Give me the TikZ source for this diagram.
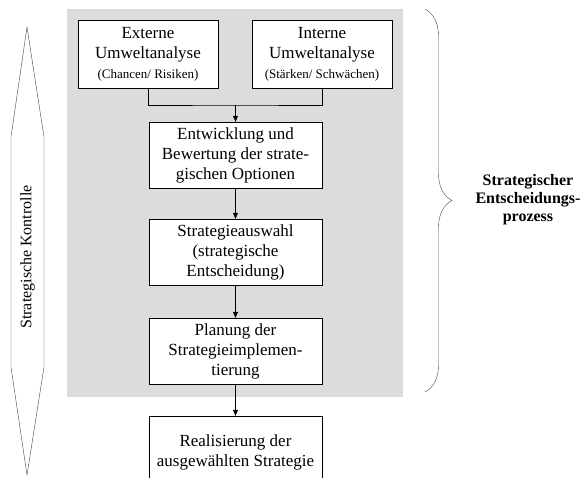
\documentclass[tikz,border=0pt]{standalone}
\usepackage{fontspec}
\setmainfont{Liberation Serif}
\usetikzlibrary{arrows.meta, decorations.pathreplacing}
\definecolor{panelgray}{RGB}{220,220,220}
\begin{document}
\begin{tikzpicture}[x=1pt, y=-1pt,
  stepbox/.style={draw=black, fill=white, align=center, inner sep=0pt,
    font=\fontsize{17}{20}\selectfont},
  flow/.style={-{Triangle[length=6pt, width=5pt]}}]
\useasboundingbox (0,0) rectangle (583,477);
\fill[panelgray] (67,9) rectangle (403,397);

% analysis boxes
\node[stepbox, minimum width=140pt, minimum height=68pt] (ext) at (148,54)
  {Externe\\Umweltanalyse\\{\fontsize{13}{17}\selectfont (Chancen/ Risiken)}};
\node[stepbox, minimum width=140pt, minimum height=68pt] (int) at (322,54)
  {Interne\\Umweltanalyse\\{\fontsize{13}{17}\selectfont (Stärken/ Schwächen)}};

% main chain
\node[stepbox, minimum width=173pt, minimum height=66pt] (opt) at (235.5,155)
  {Entwicklung und\\Bewertung der strate-\\gischen Optionen};
\node[stepbox, minimum width=173pt, minimum height=66pt] (wahl) at (235.5,252)
  {Strategieauswahl\\(strategische\\Entscheidung)};
\node[stepbox, minimum width=173pt, minimum height=66pt] (plan) at (235.5,351)
  {Planung der\\Strategieimplemen-\\tierung};
\node[stepbox, minimum width=173pt, minimum height=72pt] (real) at (235.5,452)
  {Realisierung der\\ausgewählten Strategie};

\coordinate (join) at (235.5,105);
\draw (ext.south) |- (join) -| (int.south);
\draw[flow] (join) -- (opt.north);
\draw[flow] (opt) -- (wahl);
\draw[flow] (wahl) -- (plan);
\draw[flow] (plan) -- (real);

% control arrow
\draw[black!75] (27,27) -- (44,137) -- (44,367) -- (27,475) -- (11,367) -- (11,137) -- cycle;
\node[rotate=90, font=\fontsize{16}{20}\selectfont] (ktrl) at (27.5,257) {Strategische Kontrolle};

% brace
\draw[black!70, decorate, decoration={brace, amplitude=27pt, aspect=0.5}] (425,9) -- (425,392);
\node[align=center, font=\fontsize{16}{18}\selectfont\bfseries] (proz) at (528,200)
  {Strategischer\\Entscheidungs-\\prozess};
\end{tikzpicture}
\end{document}
